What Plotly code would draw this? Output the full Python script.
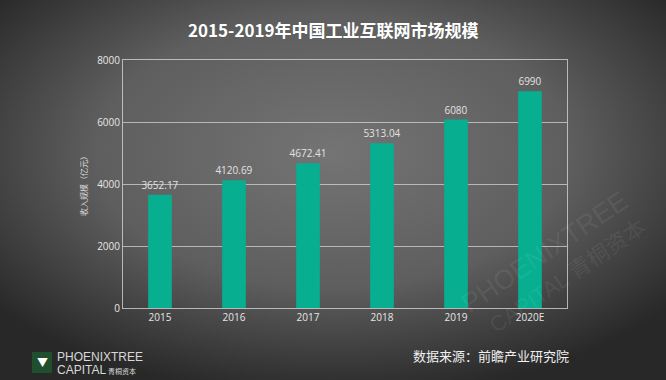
import base64
import plotly.graph_objects as go

years = ["2015", "2016", "2017", "2018", "2019", "2020E"]
revenue = [3652.17, 4120.69, 4672.41, 5313.04, 6080, 6990]
labels = ["3652.17", "4120.69", "4672.41", "5313.04", "6080", "6990"]
y_ticks = [0, 2000, 4000, 6000, 8000]

svg = """<svg xmlns='http://www.w3.org/2000/svg' width='666' height='380' viewBox='0 0 666 380' preserveAspectRatio='none'>
<defs><radialGradient id='g' cx='0.5' cy='0.4' r='0.65' gradientUnits='objectBoundingBox'>
<stop offset='0' stop-color='#747474'/><stop offset='0.55' stop-color='#5e5e5e'/><stop offset='1' stop-color='#282828'/>
</radialGradient></defs><rect width='666' height='380' fill='url(#g)'/></svg>"""
bg_uri = "data:image/svg+xml;base64," + base64.b64encode(svg.encode()).decode()

PW, PH, L, T = 444, 248, 123, 60


def px(x):
    return (x - L) / PW


def py(y):
    return 1 - (y - T) / PH


fig = go.Figure()
fig.add_trace(go.Bar(
    x=years, y=revenue, width=0.32,
    marker=dict(color="#07AE90", line=dict(width=0)),
    text=labels, textposition="outside", constraintext="none",
    textfont=dict(color="#e2e2e2", size=10, family="Open Sans"),
    cliponaxis=False, hoverinfo="x+y",
))

axis_line = "rgba(220,220,220,0.75)"
fig.update_layout(
    width=666, height=380,
    margin=dict(l=L, r=666 - L - PW, t=T, b=380 - T - PH),
    paper_bgcolor="#4a4a4a",
    plot_bgcolor="rgba(0,0,0,0)",
    showlegend=False,
    font=dict(family="Open Sans, Noto Sans CJK SC", color="#e0e0e0"),
    images=[dict(source=bg_uri, xref="paper", yref="paper", x=px(0), y=py(0),
                 sizex=666 / PW, sizey=380 / PH, sizing="stretch",
                 xanchor="left", yanchor="top", layer="below")],
    xaxis=dict(showgrid=False, showline=True, linecolor=axis_line, linewidth=1,
               mirror=True, ticks="", tickfont=dict(size=10, color="#e6e6e6"),
               fixedrange=True),
    yaxis=dict(range=[0, 8000], tickvals=y_ticks, showgrid=True,
               gridcolor="rgba(220,220,220,0.7)", gridwidth=1,
               showline=True, linecolor=axis_line, linewidth=1, mirror=True,
               ticks="", tickfont=dict(size=10, color="#e6e6e6"), zeroline=False,
               fixedrange=True,
               title=dict(text="收入规模（亿元）", font=dict(size=8, color="#dddddd",
                          family="Noto Sans CJK SC"), standoff=8)),
)

annotations = [
    dict(text="<b>2015-2019年中国工业互联网市场规模</b>", x=px(333), y=py(30),
         font=dict(size=17, color="#ffffff", family="Noto Sans CJK SC")),
    dict(text="数据来源：前瞻产业研究院", x=px(411), y=py(355), xanchor="left",
         font=dict(size=13, color="#f0f0f0", family="Noto Sans CJK SC")),
    dict(text="PHOENIXTREE", x=px(55), y=py(357), xanchor="left",
         font=dict(size=12, color="#d8d8d8", family="Liberation Sans")),
    dict(text="CAPITAL<span style='font-size:7px'> 青桐资本</span>", x=px(55), y=py(370),
         xanchor="left",
         font=dict(size=12, color="#d8d8d8", family="Liberation Sans, Noto Sans CJK SC")),
    dict(text="PHOENIXTREE", x=px(545), y=py(252), textangle=-34,
         font=dict(size=27, color="rgba(255,255,255,0.08)", family="Liberation Sans")),
    dict(text="CAPITAL 青桐资本", x=px(567), y=py(276), textangle=-34,
         font=dict(size=22, color="rgba(255,255,255,0.08)", family="Liberation Sans, Noto Sans CJK SC")),
    dict(text="▼", x=px(42), y=py(362),
         font=dict(size=11, color="#ffffff")),
]
for a in annotations:
    a.setdefault("xanchor", "center")
    a.update(xref="paper", yref="paper", showarrow=False, yanchor="middle")
fig.update_layout(annotations=annotations)

fig.add_shape(type="rect", xref="paper", yref="paper",
              x0=px(32), x1=px(52), y0=py(373), y1=py(352),
              fillcolor="#1f4f2c", line=dict(width=0), layer="below")

fig.write_html("out.html", config={"displayModeBar": False},
               post_script="document.body.style.margin='0';")
